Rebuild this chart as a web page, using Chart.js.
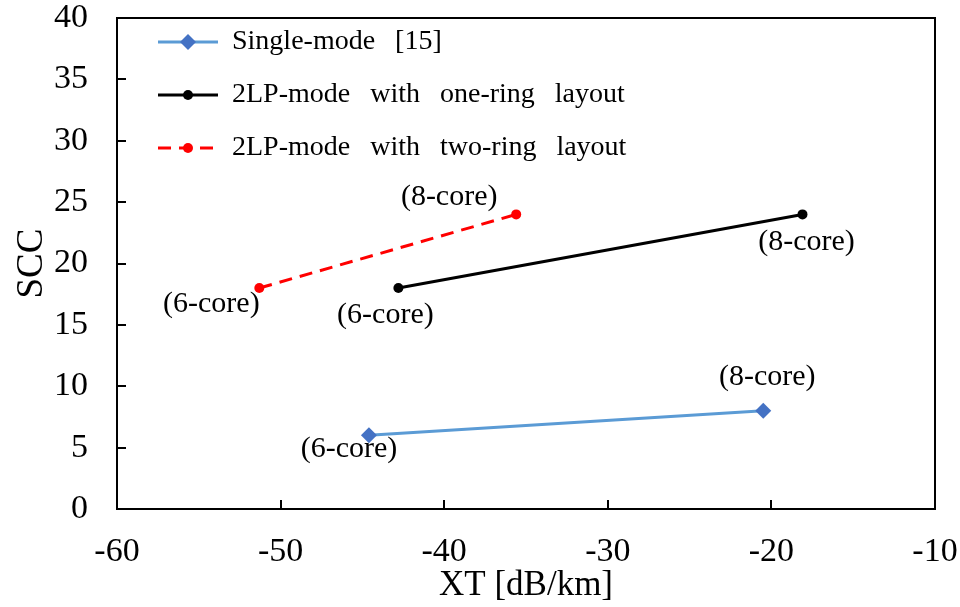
<!DOCTYPE html>
<html>
<head>
<meta charset="utf-8">
<script src="https://cdn.jsdelivr.net/npm/chart.js@4/dist/chart.umd.min.js"></script>
<style>
  html, body { margin: 0; padding: 0; background: #fff; }
  #wrap { width: 960px; height: 607px; }
</style>
</head>
<body>
<div id="wrap"><canvas id="scc-chart"></canvas></div>
<script>
const SERIES_NAMES = ['Single-mode [15]', '2LP-mode with one-ring layout', '2LP-mode with two-ring layout'];
const CORE_LABELS = ['(6-core)', '(8-core)'];

const singleModeXT = [-44.6, -20.5];
const singleModeSCC = [6, 8];
const oneRingXT = [-42.8, -18.1];
const oneRingSCC = [18, 24];
const twoRingXT = [-51.3, -35.6];
const twoRingSCC = [18, 24];

const X_TICKS = [-60, -50, -40, -30, -20, -10];
const Y_TICKS = [0, 5, 10, 15, 20, 25, 30, 35, 40];

// where each "(n-core)" note sits relative to its point, per dataset
const NOTE_OFFSETS = [
  [[-20, 14], [4, -34]],
  [[-13, 27], [4, 28]],
  [[-48, 16], [-67, -17]]
];

const SERIF = '"Liberation Serif", "Times New Roman", serif';

function toPoints(xs, ys) {
  return xs.map((x, i) => ({ x, y: ys[i] }));
}

const datasets = [
  {
    label: SERIES_NAMES[0],
    data: toPoints(singleModeXT, singleModeSCC),
    borderColor: '#5b9bd5',
    backgroundColor: '#4472c4',
    borderWidth: 3,
    pointStyle: 'rectRot',
    pointRadius: 8,
    pointBorderWidth: 0
  },
  {
    label: SERIES_NAMES[1],
    data: toPoints(oneRingXT, oneRingSCC),
    borderColor: '#000',
    backgroundColor: '#000',
    borderWidth: 3,
    pointStyle: 'circle',
    pointRadius: 5,
    pointBorderWidth: 0
  },
  {
    label: SERIES_NAMES[2],
    data: toPoints(twoRingXT, twoRingSCC),
    borderColor: '#ff0000',
    backgroundColor: '#ff0000',
    borderWidth: 3,
    borderDash: [13, 8],
    pointStyle: 'circle',
    pointRadius: 5,
    pointBorderWidth: 0
  }
];

// words in the legend are spread out with wide gaps
function drawSpacedText(ctx, text, x, y, gap) {
  text.split(' ').forEach((word) => {
    ctx.fillText(word, x, y);
    x += ctx.measureText(word).width + gap;
  });
}

// frame, inward tick marks, point notes and the in-plot legend
const decorations = {
  id: 'decorations',
  afterDatasetsDraw(chart) {
    const { ctx, chartArea: a, scales } = chart;
    ctx.save();

    ctx.strokeStyle = '#000';
    ctx.lineWidth = 2;
    ctx.strokeRect(a.left, a.top, a.right - a.left, a.bottom - a.top);

    ctx.beginPath();
    X_TICKS.forEach((v) => {
      const px = Math.round(scales.x.getPixelForValue(v));
      ctx.moveTo(px, a.bottom);
      ctx.lineTo(px, a.bottom - 9);
    });
    Y_TICKS.forEach((v) => {
      const py = Math.round(scales.y.getPixelForValue(v));
      ctx.moveTo(a.left, py);
      ctx.lineTo(a.left + 9, py);
    });
    ctx.stroke();

    ctx.fillStyle = '#000';
    ctx.font = '30px ' + SERIF;
    ctx.textAlign = 'center';
    ctx.textBaseline = 'middle';
    chart.data.datasets.forEach((ds, di) => {
      const meta = chart.getDatasetMeta(di);
      meta.data.forEach((pt, pi) => {
        const [dx, dy] = NOTE_OFFSETS[di][pi];
        ctx.fillText(CORE_LABELS[pi], pt.x + dx, pt.y + dy);
      });
    });

    const rowY = [42, 95, 148];
    const x0 = 158;
    const x1 = 218;
    ctx.textAlign = 'left';
    ctx.font = '28px ' + SERIF;
    chart.data.datasets.forEach((ds, di) => {
      const y = rowY[di];
      ctx.strokeStyle = ds.borderColor;
      ctx.lineWidth = 3;
      ctx.setLineDash(ds.borderDash || []);
      ctx.beginPath();
      ctx.moveTo(x0, y);
      ctx.lineTo(x1, y);
      ctx.stroke();
      ctx.setLineDash([]);
      ctx.fillStyle = ds.backgroundColor;
      const cx = (x0 + x1) / 2;
      ctx.beginPath();
      if (ds.pointStyle === 'rectRot') {
        ctx.moveTo(cx, y - 8);
        ctx.lineTo(cx + 8, y);
        ctx.lineTo(cx, y + 8);
        ctx.lineTo(cx - 8, y);
        ctx.closePath();
      } else {
        ctx.arc(cx, y, 5, 0, Math.PI * 2);
      }
      ctx.fill();
      ctx.fillStyle = '#000';
      drawSpacedText(ctx, ds.label, 232, y, 20);
    });

    ctx.restore();
  }
};

new Chart(document.getElementById('scc-chart'), {
  type: 'scatter',
  data: { datasets },
  options: {
    responsive: true,
    maintainAspectRatio: false,
    animation: false,
    showLine: true,
    layout: { padding: { top: 18, right: 25, bottom: 0, left: 10 } },
    plugins: {
      legend: { display: false },
      tooltip: { enabled: false }
    },
    scales: {
      x: {
        type: 'linear',
        min: -60,
        max: -10,
        afterBuildTicks: (scale) => { scale.ticks = X_TICKS.map((value) => ({ value })); },
        afterFit: (scale) => {
          scale.height = 98;
          scale.paddingLeft = 0;
          scale.paddingRight = 0;
        },
        grid: { display: false },
        border: { display: false },
        ticks: { color: '#000', font: { family: SERIF, size: 34 }, padding: 15, maxRotation: 0 },
        title: { display: true, text: 'XT [dB/km]', color: '#000', font: { family: SERIF, size: 35 }, padding: { top: 0, bottom: 0 } }
      },
      y: {
        type: 'linear',
        min: 0,
        max: 40,
        afterBuildTicks: (scale) => { scale.ticks = Y_TICKS.map((value) => ({ value })); },
        afterFit: (scale) => {
          scale.width = 107;
          scale.paddingTop = 0;
          scale.paddingBottom = 0;
        },
        grid: { display: false },
        border: { display: false },
        ticks: { color: '#000', font: { family: SERIF, size: 34 }, padding: 21 },
        title: { display: true, text: 'SCC', color: '#000', font: { family: SERIF, size: 37 }, padding: { top: 0, bottom: 0 } }
      }
    }
  },
  plugins: [decorations]
});
</script>
</body>
</html>
